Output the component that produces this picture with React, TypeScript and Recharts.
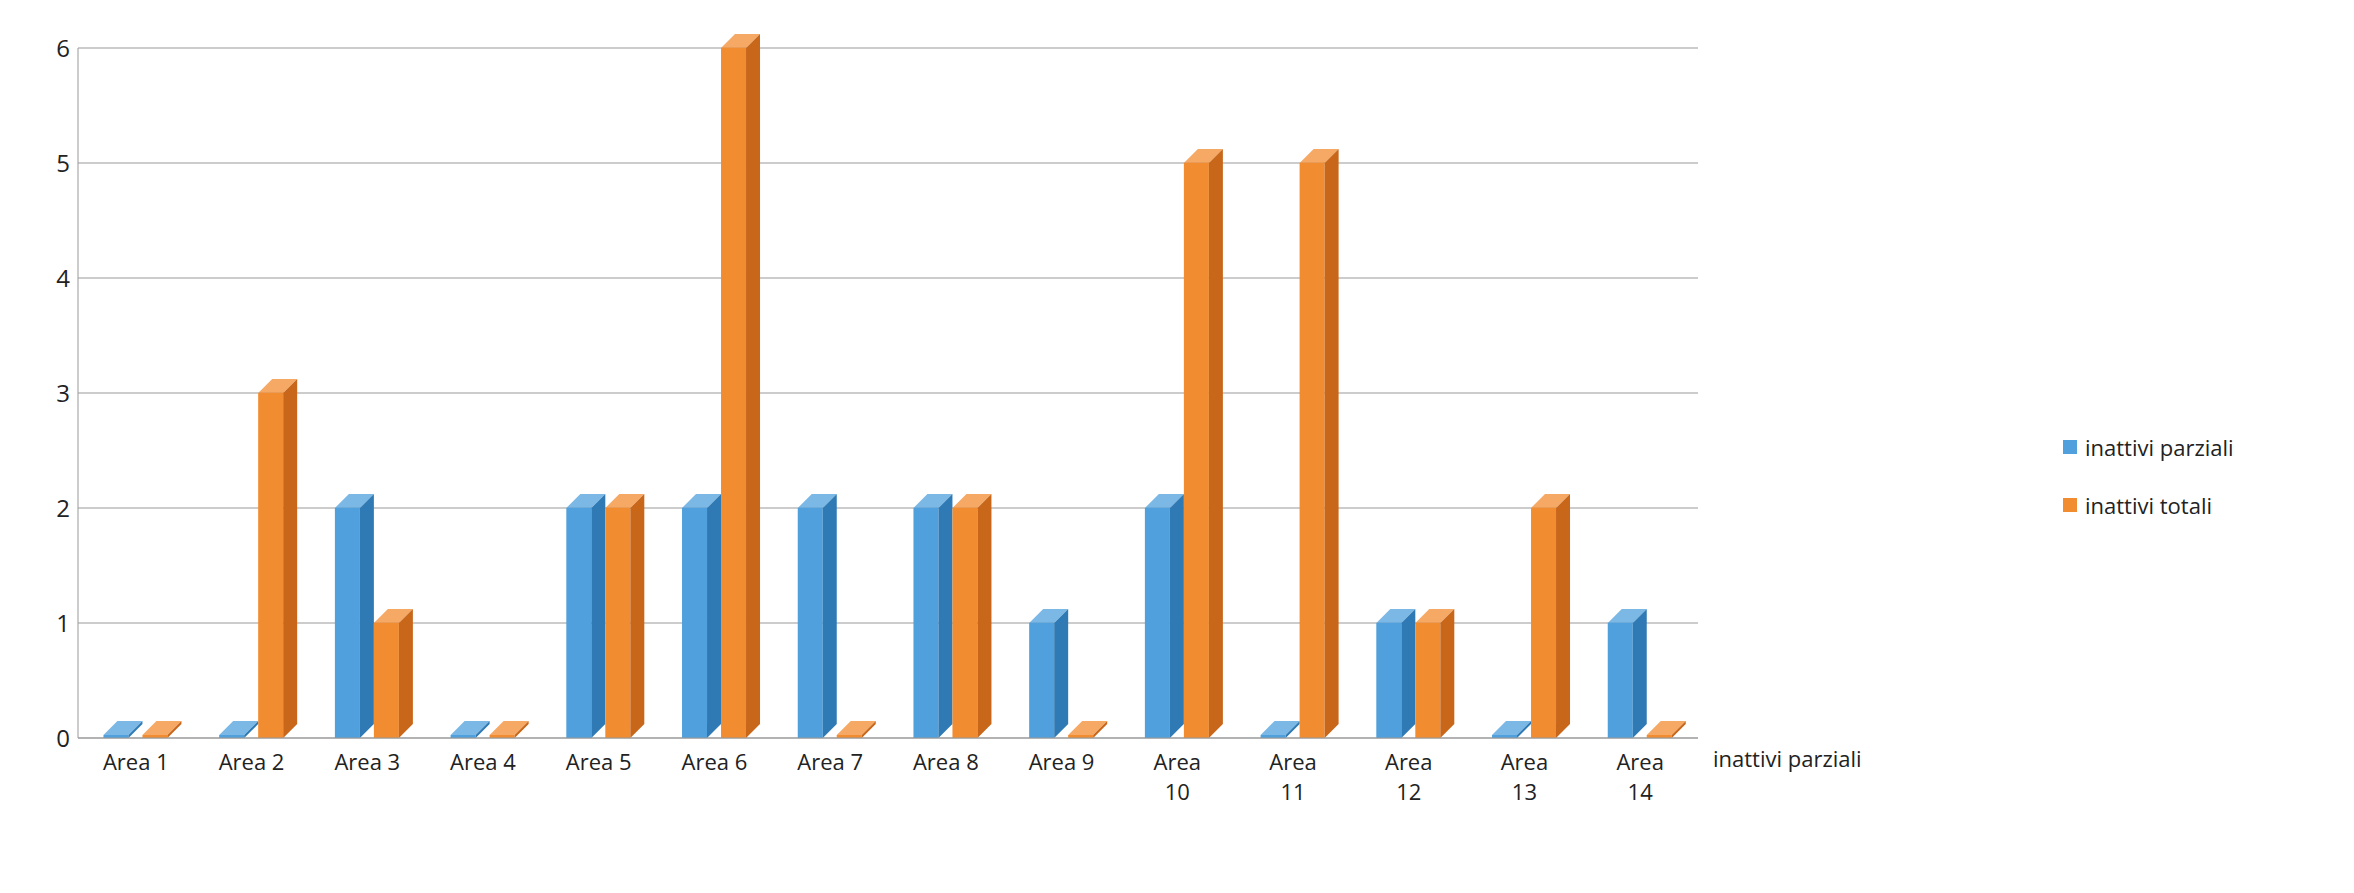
import { BarChart, Bar, XAxis, YAxis, CartesianGrid } from 'recharts';

const areas = [
  'Area 1', 'Area 2', 'Area 3', 'Area 4', 'Area 5', 'Area 6', 'Area 7',
  'Area 8', 'Area 9', 'Area 10', 'Area 11', 'Area 12', 'Area 13', 'Area 14',
];
const parziali = [0, 0, 2, 0, 2, 2, 2, 2, 1, 2, 0, 1, 0, 1];
const totali = [0, 3, 1, 0, 2, 6, 0, 2, 0, 5, 5, 1, 2, 0];
const yTicks = [0, 1, 2, 3, 4, 5, 6];

const series = [
  { key: 'parziali', name: 'inattivi parziali', fill: '#4fa0dc', side: '#2f7ab4' },
  { key: 'totali', name: 'inattivi totali', fill: '#f28c30', side: '#c8661a' },
];

const data = areas.map((name, i) => ({
  name,
  parziali: parziali[i],
  totali: totali[i],
}));

const Bar3D = (props: any) => {
  const { x, y, width, height, fill, side } = props;
  const d = 14;
  const h = Math.max(height, 3);
  const top = y + height - h;
  return (
    <g>
      <rect x={x} y={top} width={width} height={h} fill={fill} />
      <polygon
        points={`${x},${top} ${x + d},${top - d} ${x + width + d},${top - d} ${x + width},${top}`}
        fill={fill}
        opacity={0.75}
      />
      <polygon
        points={`${x + width},${top} ${x + width + d},${top - d} ${x + width + d},${top + h - d} ${x + width},${top + h}`}
        fill={side}
      />
    </g>
  );
};

const AreaTick = (props: any) => {
  const { x, y, payload } = props;
  const parts = payload.value.split(' ');
  const twoLines = Number(parts[1]) >= 10;
  return (
    <text x={x} y={y + 24} textAnchor="middle" fontSize={22} fill="#222">
      {twoLines ? (
        <>
          <tspan x={x} dy={0}>{parts[0]}</tspan>
          <tspan x={x} dy={30}>{parts[1]}</tspan>
        </>
      ) : (
        payload.value
      )}
    </text>
  );
};

export default function App() {
  return (
    <div style={{ fontFamily: '"Open Sans", sans-serif', position: 'relative' }}>
      <BarChart
        width={2330}
        height={870}
        data={data}
        margin={{ top: 40, right: 640, left: 10, bottom: 110 }}
        barGap={14}
        barCategoryGap="22%"
      >
        <CartesianGrid vertical={false} stroke="#999" />
        <XAxis
          dataKey="name"
          tick={<AreaTick />}
          tickLine={false}
          axisLine={{ stroke: '#999' }}
          interval={0}
        />
        <YAxis
          domain={[0, 6]}
          ticks={yTicks}
          tick={{ fontSize: 24, fill: '#222' }}
          tickLine={false}
          axisLine={{ stroke: '#999' }}
          width={60}
        />
        {series.map((s) => (
          <Bar
            key={s.key}
            dataKey={s.key}
            name={s.name}
            fill={s.fill}
            isAnimationActive={false}
            shape={(p: any) => <Bar3D {...p} side={s.side} />}
          />
        ))}
      </BarChart>
      <div style={{ position: 'absolute', left: 2055, top: 410, fontSize: 22, color: '#222' }}>
        {series.map((s) => (
          <div key={s.key} style={{ display: 'flex', alignItems: 'center', height: 58 }}>
            <span style={{ width: 14, height: 14, background: s.fill, marginRight: 8 }} />
            {s.name}
          </div>
        ))}
      </div>
      <div style={{ position: 'absolute', left: 1705, top: 735, fontSize: 22, color: '#222' }}>
        inattivi parziali
      </div>
    </div>
  );
}
